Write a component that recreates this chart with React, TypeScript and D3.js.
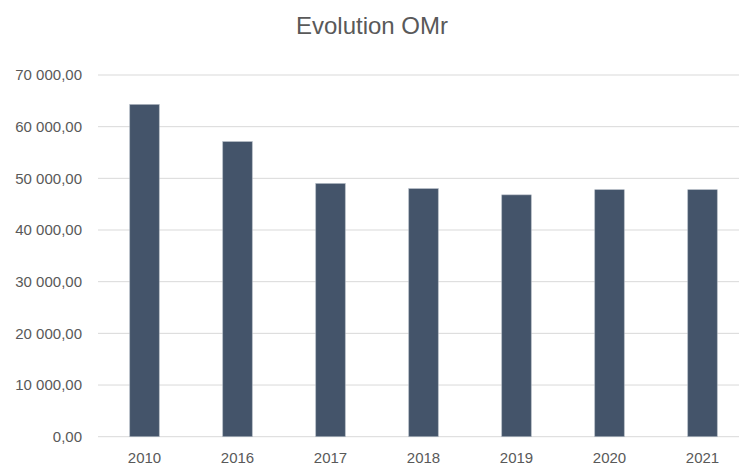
import * as d3 from "d3";
import React, {useEffect, useRef} from "react";

const years = ["2010", "2016", "2017", "2018", "2019", "2020", "2021"];
const values = [64300, 57100, 49000, 48000, 46800, 47800, 47800];
const yTicks = [0, 10000, 20000, 30000, 40000, 50000, 60000, 70000];
const title = "Evolution OMr";

const font = "'Liberation Sans', sans-serif";

const App: React.FC = () => {
  const svgRef = useRef<SVGSVGElement | null>(null);

  useEffect(() => {
    if (!svgRef.current) {
      return
    }
    const svg = d3.select(svgRef.current);
    svg.selectAll("*").remove();

    const width = 739;
    const top = 75;
    const bottom = 436.7;
    const left = 98;
    const right = 749;

    const locale = d3.formatLocale({decimal: ",", thousands: " ", grouping: [3], currency: ["", " €"]});
    const fmt = locale.format(",.2f");

    const x = d3.scaleBand<string>()
      .domain(years)
      .range([left, right])
      .paddingInner(0.683)
      .paddingOuter(0.3415);
    const y = d3.scaleLinear().domain([0, 70000]).range([bottom, top]);

    svg.append("text")
      .attr("x", 372)
      .attr("y", 34)
      .attr("text-anchor", "middle")
      .attr("font-family", font)
      .attr("font-size", 24)
      .attr("fill", "#595959")
      .text(title);

    const grid = svg.append("g");
    grid.selectAll("line")
      .data(yTicks)
      .enter().append("line")
      .attr("x1", left)
      .attr("x2", width)
      .attr("y1", d => y(d))
      .attr("y2", d => y(d))
      .attr("stroke", "#d9d9d9")
      .attr("stroke-width", 1);

    svg.append("g").selectAll("text")
      .data(yTicks)
      .enter().append("text")
      .attr("x", 82)
      .attr("y", d => y(d))
      .attr("dy", "0.35em")
      .attr("text-anchor", "end")
      .attr("font-family", font)
      .attr("font-size", 15)
      .attr("fill", "#595959")
      .text(d => fmt(d));

    svg.append("g").selectAll("rect")
      .data(values)
      .enter().append("rect")
      .attr("x", (_, i) => x(years[i])!)
      .attr("y", d => y(d))
      .attr("width", x.bandwidth())
      .attr("height", d => bottom - y(d))
      .attr("fill", "#44546a")
      .attr("stroke", "#aab2bd")
      .attr("stroke-width", 0.6);

    svg.append("g").selectAll("text")
      .data(years)
      .enter().append("text")
      .attr("x", d => x(d)! + x.bandwidth() / 2)
      .attr("y", 463)
      .attr("text-anchor", "middle")
      .attr("font-family", font)
      .attr("font-size", 15)
      .attr("fill", "#595959")
      .text(d => d);
  }, []);

  return (
    <svg
      ref={svgRef}
      width={739}
      height={466}
      style={{position: "absolute", left: 0, top: 0, background: "#fff"}}
    />
  );
}

export default App;
